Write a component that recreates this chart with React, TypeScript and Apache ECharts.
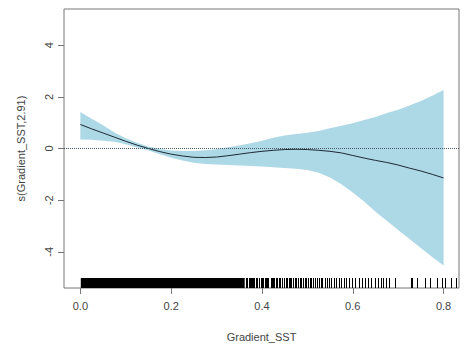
import React, { useEffect, useRef } from "react";
import * as echarts from "echarts";

// Smooth term s(Gradient_SST, 2.91): fitted curve with its confidence band
const gridX: number[] = [
  0.0, 0.025, 0.05, 0.075, 0.1, 0.125, 0.15, 0.175, 0.2, 0.225, 0.25, 0.275,
  0.3, 0.325, 0.35, 0.375, 0.4, 0.425, 0.45, 0.475, 0.5, 0.525, 0.55, 0.575,
  0.6, 0.625, 0.65, 0.675, 0.7, 0.725, 0.75, 0.775, 0.8,
];
const fitValues: number[] = [
  0.93, 0.76, 0.6, 0.44, 0.28, 0.13, 0.0, -0.12, -0.22, -0.29, -0.34, -0.35,
  -0.33, -0.28, -0.22, -0.16, -0.11, -0.07, -0.04, -0.03, -0.04, -0.07, -0.11,
  -0.17, -0.27, -0.37, -0.46, -0.54, -0.64, -0.76, -0.87, -1.0, -1.14,
];
const upperValues: number[] = [
  1.41, 1.15, 0.9, 0.62, 0.4, 0.22, 0.08, -0.02, -0.08, -0.1, -0.1, -0.07,
  -0.03, 0.05, 0.12, 0.2, 0.3, 0.42, 0.5, 0.56, 0.61, 0.68, 0.78, 0.88, 0.98,
  1.1, 1.22, 1.37, 1.5, 1.66, 1.84, 2.04, 2.26,
];
const lowerValues: number[] = [
  0.35, 0.34, 0.3, 0.26, 0.16, 0.04, -0.08, -0.22, -0.36, -0.46, -0.55, -0.6,
  -0.62, -0.64, -0.66, -0.68, -0.7, -0.73, -0.75, -0.78, -0.83, -0.94, -1.12,
  -1.38, -1.7, -2.05, -2.45, -2.8, -3.15, -3.5, -3.85, -4.2, -4.53,
];

// Rug: a continuous run of observations, then individual ones
const rugDenseSpan: number[] = [0.001, 0.362];
const rugValues: number[] = [
  0.364, 0.366, 0.368, 0.371, 0.373, 0.375, 0.379, 0.381, 0.383, 0.386, 0.388,
  0.39, 0.394, 0.398, 0.401, 0.403, 0.406, 0.41, 0.412, 0.414, 0.419, 0.423,
  0.425, 0.427, 0.43, 0.434, 0.437, 0.439, 0.444, 0.448, 0.452, 0.456, 0.459,
  0.461, 0.465, 0.469, 0.472, 0.476, 0.479, 0.483, 0.487, 0.49, 0.494, 0.498,
  0.502, 0.505, 0.509, 0.513, 0.517, 0.521, 0.525, 0.529, 0.533, 0.538, 0.543,
  0.548, 0.553, 0.558, 0.563, 0.569, 0.575, 0.58, 0.586, 0.592, 0.599, 0.606,
  0.613, 0.62, 0.627, 0.634, 0.641, 0.649, 0.656, 0.662, 0.667, 0.673, 0.679,
  0.694, 0.728, 0.731, 0.742, 0.759, 0.771, 0.786, 0.797, 0.803, 0.816, 0.827,
];

const xTicks: number[] = [0, 0.2, 0.4, 0.6, 0.8];
const yTicks: number[] = [-4, -2, 0, 2, 4];

const X_MIN = -0.036;
const X_MAX = 0.834;
const Y_MIN = -5.4;
const Y_MAX = 5.4;

const FONT = "Liberation Sans, Arial, sans-serif";
const TEXT = "#444";
const AXIS = "#777";

export default function App() {
  const ref = useRef<HTMLDivElement>(null);

  useEffect(() => {
    if (!ref.current) return;
    const chart = echarts.init(ref.current, null, { renderer: "svg" });

    const option: any = {
      animation: false,
      backgroundColor: "#fff",
      grid: {
        left: 64,
        top: 9,
        right: 11,
        bottom: 54,
        show: true,
        borderColor: AXIS,
        borderWidth: 1,
        backgroundColor: "transparent",
      },
      xAxis: {
        type: "value",
        min: X_MIN,
        max: X_MAX,
        name: "Gradient_SST",
        nameLocation: "middle",
        nameGap: 43,
        nameTextStyle: { color: TEXT, fontSize: 11, fontFamily: FONT },
        axisLine: { show: false, onZero: false },
        axisTick: {
          show: true,
          inside: false,
          length: 6,
          customValues: xTicks,
          lineStyle: { color: AXIS },
        },
        axisLabel: {
          customValues: xTicks,
          formatter: (v: number) => v.toFixed(1),
          color: TEXT,
          fontSize: 11,
          fontFamily: FONT,
          margin: 12,
        },
        splitLine: { show: false },
      },
      yAxis: {
        type: "value",
        min: Y_MIN,
        max: Y_MAX,
        name: "s(Gradient_SST,2.91)",
        nameLocation: "middle",
        nameGap: 38,
        nameRotate: 90,
        nameTextStyle: { color: TEXT, fontSize: 11, fontFamily: FONT },
        axisLine: { show: false, onZero: false },
        axisTick: {
          show: true,
          inside: false,
          length: 6,
          customValues: yTicks,
          lineStyle: { color: AXIS },
        },
        axisLabel: {
          customValues: yTicks,
          rotate: 90,
          color: TEXT,
          fontSize: 11,
          fontFamily: FONT,
          margin: 10,
        },
        splitLine: { show: false },
      },
      series: [
        {
          // confidence band as one polygon
          type: "custom",
          z: 1,
          silent: true,
          data: [[0]],
          renderItem: (_params: any, api: any) => {
            const pts: number[][] = [];
            for (let i = 0; i < gridX.length; i++) {
              pts.push(api.coord([gridX[i], upperValues[i]]));
            }
            for (let i = gridX.length - 1; i >= 0; i--) {
              pts.push(api.coord([gridX[i], lowerValues[i]]));
            }
            return {
              type: "polygon",
              shape: { points: pts },
              style: { fill: "#ADD8E6", stroke: null },
            };
          },
        },
        {
          type: "line",
          z: 3,
          data: gridX.map((x, i) => [x, fitValues[i]]),
          showSymbol: false,
          symbol: "none",
          lineStyle: { color: "#1c2a34", width: 1 },
          markLine: {
            silent: true,
            symbol: "none",
            label: { show: false },
            lineStyle: { color: "#4a5a66", type: "dotted", width: 1 },
            data: [{ yAxis: 0 }],
          },
        },
        {
          // dense part of the rug
          type: "custom",
          z: 4,
          silent: true,
          data: [[rugDenseSpan[0], rugDenseSpan[1]]],
          renderItem: (_params: any, api: any) => {
            const a = api.coord([api.value(0), Y_MIN]);
            const b = api.coord([api.value(1), Y_MIN]);
            return {
              type: "rect",
              shape: { x: a[0], y: a[1] - 10, width: b[0] - a[0], height: 10 },
              style: { fill: "#000" },
            };
          },
        },
        {
          // individual rug ticks, snapped to pixel centres
          type: "custom",
          z: 4,
          silent: true,
          data: rugValues.map((v) => [v, Y_MIN]),
          renderItem: (_params: any, api: any) => {
            const p = api.coord([api.value(0), Y_MIN]);
            const x = Math.round(p[0]) + 0.5;
            return {
              type: "line",
              shape: { x1: x, y1: p[1], x2: x, y2: p[1] - 10 },
              style: { stroke: "#000", lineWidth: 1 },
            };
          },
        },
      ],
    };

    chart.setOption(option);
    return () => chart.dispose();
  }, []);

  return (
    <div
      ref={ref}
      style={{ position: "fixed", left: 0, top: 0, width: 470, height: 347 }}
    />
  );
}
